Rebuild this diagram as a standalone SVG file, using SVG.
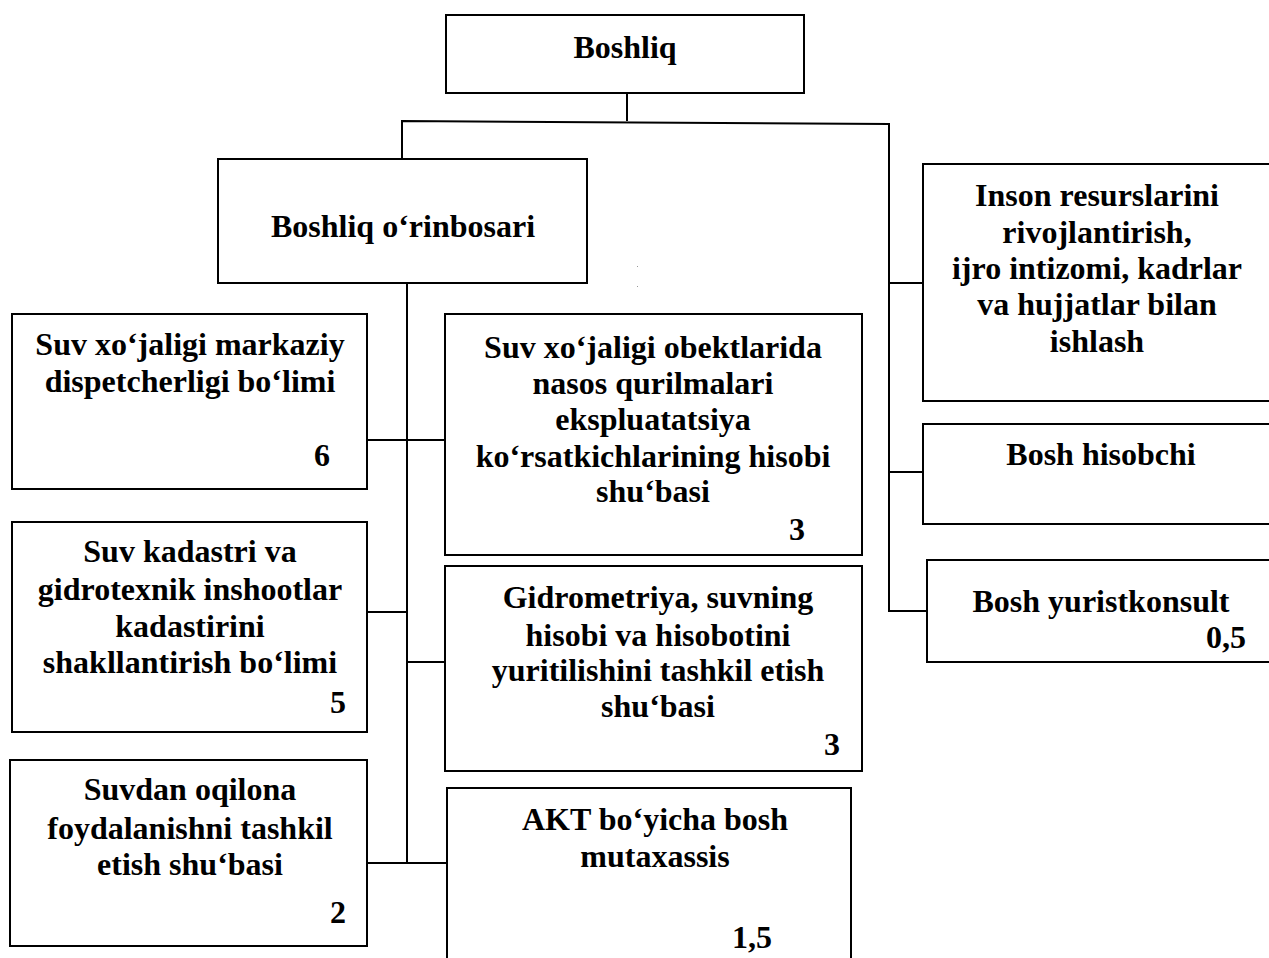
<svg xmlns="http://www.w3.org/2000/svg" width="1269" height="958" viewBox="0 0 1269 958">
<style>
.box{fill:#fff;stroke:#000;stroke-width:2}
.t{font-family:"Liberation Serif","Times New Roman",serif;font-weight:bold;font-size:32px;fill:#000;text-anchor:middle}
.c{fill:none;stroke:#000;stroke-width:2}
</style>
<rect width="1269" height="958" fill="#fff"/>
<g id="connectors">
<polyline class="c" points="627,93 627,121"/>
<polyline class="c" points="402,159 402,121 889,124 889,611 927,611"/>
<line class="c" x1="889" y1="283" x2="923" y2="283"/>
<line class="c" x1="889" y1="472" x2="923" y2="472"/>
<line class="c" x1="407" y1="283" x2="407" y2="863"/>
<line class="c" x1="367" y1="440" x2="445" y2="440"/>
<line class="c" x1="367" y1="612" x2="407" y2="612"/>
<line class="c" x1="407" y1="662" x2="445" y2="662"/>
<line class="c" x1="367" y1="863" x2="447" y2="863"/>
</g>
<g id="boshliq">
<rect class="box" x="446" y="15" width="358" height="78"/>
<text class="t" x="625" y="58">Boshliq</text>
</g>
<g id="orinbosar">
<rect class="box" x="218" y="159" width="369" height="124"/>
<text class="t" x="403" y="237">Boshliq o‘rinbosari</text>
</g>
<g id="inson">
<rect class="box" x="923" y="164" width="360" height="237"/>
<text class="t" x="1097" y="206">Inson resurslarini</text>
<text class="t" x="1097" y="243">rivojlantirish,</text>
<text class="t" x="1097" y="279">ijro intizomi, kadrlar</text>
<text class="t" x="1097" y="315">va hujjatlar bilan</text>
<text class="t" x="1097" y="352">ishlash</text>
</g>
<g id="hisobchi">
<rect class="box" x="923" y="424" width="360" height="100"/>
<text class="t" x="1101" y="465">Bosh hisobchi</text>
</g>
<g id="yurist">
<rect class="box" x="927" y="560" width="360" height="102"/>
<text class="t" x="1101" y="612">Bosh yuristkonsult</text>
<text class="t" x="1226" y="648">0,5</text>
</g>
<g id="dispetcher">
<rect class="box" x="12" y="314" width="355" height="175"/>
<text class="t" x="190" y="355">Suv xo‘jaligi markaziy</text>
<text class="t" x="190" y="392">dispetcherligi bo‘limi</text>
<text class="t" x="322" y="466">6</text>
</g>
<g id="nasos">
<rect class="box" x="445" y="314" width="417" height="241"/>
<text class="t" x="653" y="358">Suv xo‘jaligi obektlarida</text>
<text class="t" x="653" y="394">nasos qurilmalari</text>
<text class="t" x="653" y="430">ekspluatatsiya</text>
<text class="t" x="653" y="467">ko‘rsatkichlarining hisobi</text>
<text class="t" x="653" y="502">shu‘basi</text>
<text class="t" x="797" y="540">3</text>
</g>
<g id="kadastr">
<rect class="box" x="12" y="522" width="355" height="210"/>
<text class="t" x="190" y="562">Suv kadastri va</text>
<text class="t" x="190" y="600">gidrotexnik inshootlar</text>
<text class="t" x="190" y="637">kadastirini</text>
<text class="t" x="190" y="673">shakllantirish bo‘limi</text>
<text class="t" x="338" y="713">5</text>
</g>
<g id="gidrometriya">
<rect class="box" x="445" y="566" width="417" height="205"/>
<text class="t" x="658" y="608">Gidrometriya, suvning</text>
<text class="t" x="658" y="646">hisobi va hisobotini</text>
<text class="t" x="658" y="681">yuritilishini tashkil etish</text>
<text class="t" x="658" y="717">shu‘basi</text>
<text class="t" x="832" y="755">3</text>
</g>
<g id="suvdan">
<rect class="box" x="10" y="760" width="357" height="186"/>
<text class="t" x="190" y="800">Suvdan oqilona</text>
<text class="t" x="190" y="839">foydalanishni tashkil</text>
<text class="t" x="190" y="875">etish shu‘basi</text>
<text class="t" x="338" y="923">2</text>
</g>
<g id="akt">
<rect class="box" x="447" y="788" width="404" height="190"/>
<text class="t" x="655" y="830">AKT bo‘yicha bosh</text>
<text class="t" x="655" y="867">mutaxassis</text>
<text class="t" x="752" y="948">1,5</text>
</g>
<g id="marks">
<rect x="637" y="266" width="1" height="1" fill="#999"/>
<rect x="637" y="286" width="1" height="1" fill="#999"/>
</g>
</svg>
